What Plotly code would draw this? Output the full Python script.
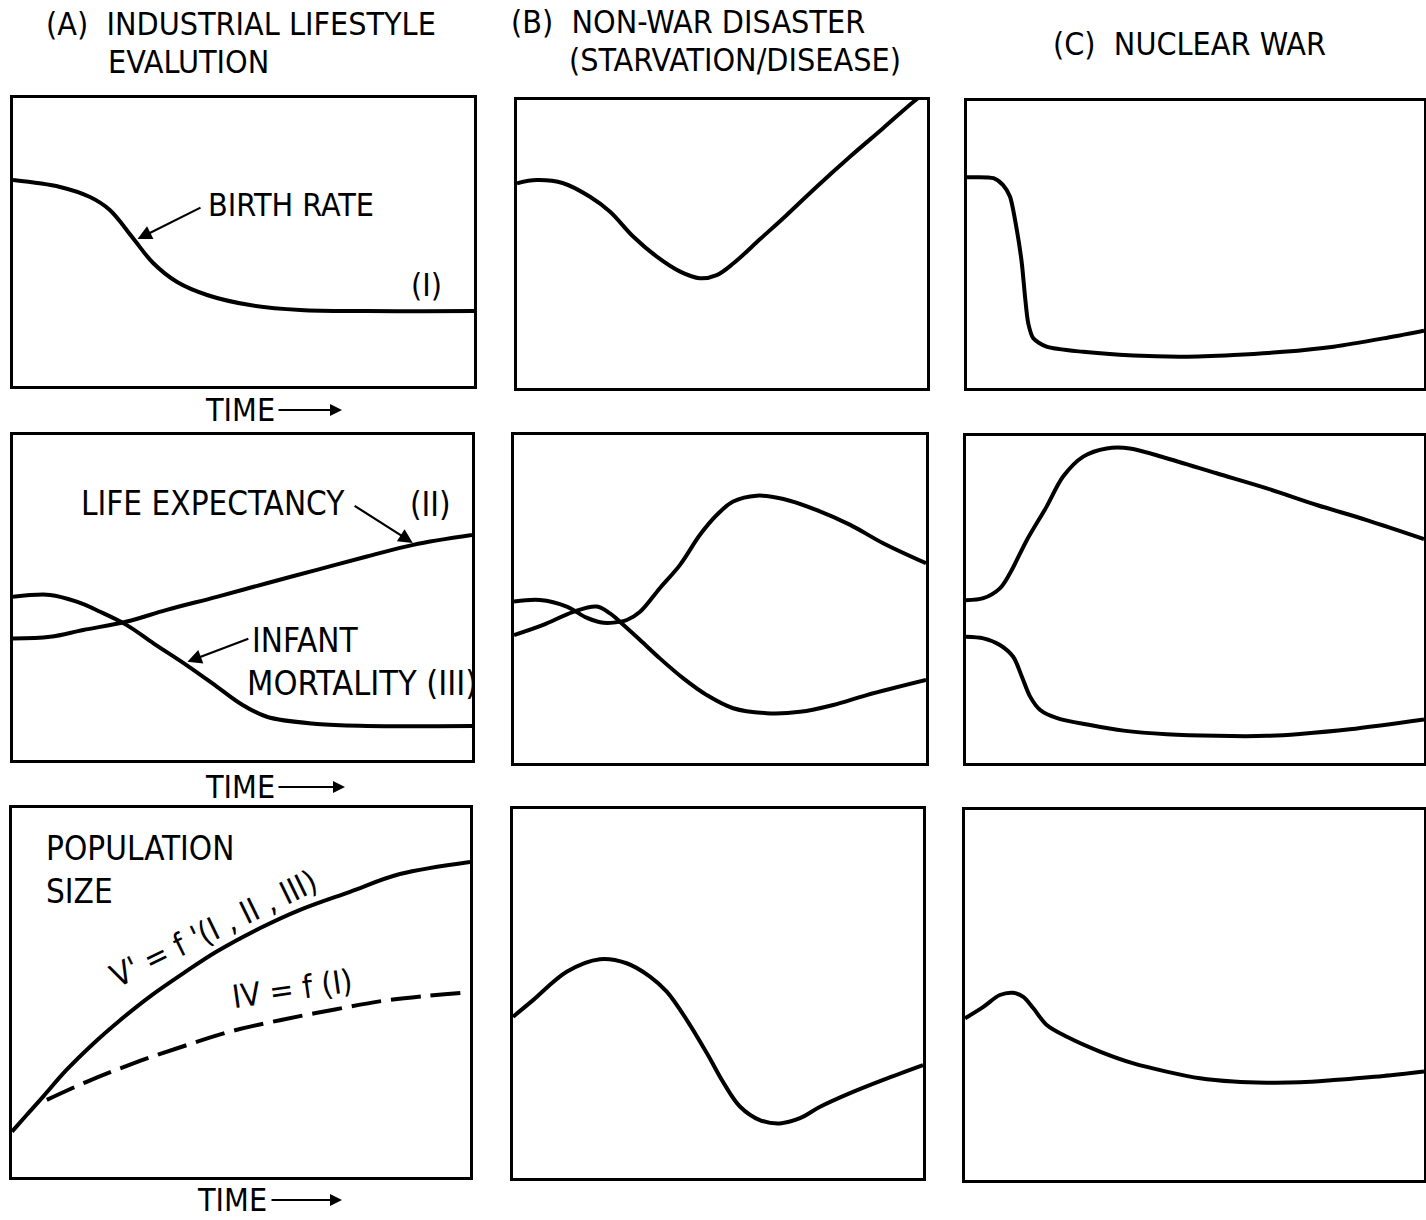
import plotly.graph_objects as go

W, H = 1426, 1220
FONT = "Liberation Sans Narrow, DejaVu Sans Condensed, Liberation Sans, sans-serif"

# ---------------- data (time 0..100, value 0..100 of each panel) ----------------
# Row 1: birth rate
t_A1 = [0, 10.2, 16.7, 21, 26, 30.4, 35.6, 42.1, 51.4, 62.3, 76.8, 100]
birth_A1 = [71.5, 69.1, 65.6, 61.1, 51.4, 42.7, 36.1, 31.6, 28.1, 26.4, 26.0, 26.0]

t_B1 = [0, 4.8, 11.3, 17.8, 22.7, 28.4, 34.1, 39.8, 44.6, 48.7, 52.8, 59.3, 65.8, 73.1, 81.2, 89.3, 96.7, 100]
birth_B1 = [71.1, 72.2, 71.1, 66.4, 61.2, 52.5, 45.6, 40.4, 38.1, 39.2, 43.3, 51.7, 60.1, 69.9, 80.3, 90.2, 99.4, 103]

t_C1 = [0, 5.8, 7.9, 9.4, 10.9, 12.0, 12.7, 13.4, 14.5, 17.4, 25.4, 36.4, 47.3, 58.3, 69.2, 80.2, 91.1, 100]
birth_C1 = [73.4, 73.1, 70.7, 66.7, 55.1, 43.4, 31.8, 22.5, 17.3, 14.4, 12.6, 11.3, 10.9, 11.5, 12.6, 14.4, 17.3, 20.0]

# Row 2: life expectancy (II) and infant mortality (III)
t_A2_le = [0, 8.1, 15.3, 24.8, 33.5, 44.4, 55.3, 66.2, 77.1, 87.2, 100]
life_A2 = [37.4, 37.9, 40.0, 42.6, 46.2, 50.2, 54.4, 58.5, 62.6, 66.2, 69.2]
t_A2_im = [0, 8.1, 13.9, 19.0, 24.8, 30.6, 37.8, 44.4, 49.5, 55.3, 66.2, 77.1, 100]
infant_A2 = [50.2, 50.8, 48.7, 45.6, 41.5, 35.9, 29.2, 22.6, 17.4, 13.3, 11.1, 10.5, 10.5]

t_B2_le = [0, 7.1, 14.4, 20.1, 23.3, 26.1, 30.6, 35.4, 41.1, 46.8, 53.2, 61.3, 69.4, 77.5, 85.6, 100]
life_B2 = [39.0, 42.1, 46.1, 47.7, 45.6, 42.6, 37.5, 31.9, 25.8, 20.7, 16.7, 15.2, 15.6, 17.7, 20.7, 25.3]
t_B2_im = [0, 6.3, 12.8, 17.6, 20.9, 24.1, 27.4, 30.6, 35.4, 40.3, 45.1, 49.2, 53.2, 58.9, 65.4, 73.5, 81.6, 89.6, 100]
infant_B2 = [49.2, 49.7, 47.7, 44.3, 42.9, 42.8, 43.6, 46.1, 53.3, 60.4, 69.5, 75.6, 79.7, 81.5, 80.5, 77.1, 72.6, 67.0, 60.9]

t_C2_im = [0, 3.8, 7.4, 9.6, 13.3, 17.6, 21.2, 25.6, 30.7, 35.8, 43.8, 54.7, 65.7, 76.6, 87.5, 100]
infant_C2 = [49.8, 50.4, 53.4, 58.0, 68.2, 78.4, 87.6, 93.7, 96.2, 96.2, 93.2, 88.6, 84.0, 78.9, 74.3, 68.5]
t_C2_le = [0, 3.8, 7.4, 10.3, 12.2, 14.0, 16.2, 19.9, 27.1, 34.4, 43.8, 54.7, 65.7, 72.9, 83.8, 100]
life_C2 = [38.6, 38.1, 36.1, 32.5, 26.4, 20.3, 16.2, 13.7, 11.6, 9.9, 8.8, 8.3, 8.3, 8.9, 10.3, 13.3]

# Row 3: population size
t_A3_v = [0, 3.2, 6.8, 11.9, 17.8, 23.6, 30.1, 37.4, 44.7, 54.1, 62.9, 73.8, 84.7, 100]
pop_A3_v = [12.3, 16.8, 21.8, 29.0, 36.2, 42.5, 48.9, 55.2, 61.1, 67.4, 72.4, 77.3, 82.1, 85.4]
t_A3_iv = [7.6, 16.3, 26.5, 37.1, 47.6, 58.5, 70.5, 82.5, 100]
pop_A3_iv = [20.9, 25.8, 30.8, 35.3, 39.4, 42.5, 45.4, 48.0, 50.1]

t_B3 = [0, 4.9, 13.1, 21.2, 27.7, 33.4, 37.5, 42.4, 47.3, 51.4, 55.4, 60.2, 65.1, 70.0, 74.9, 82.2, 90.3, 100]
pop_B3 = [43.7, 48.2, 55.9, 59.3, 58.2, 54.6, 50.5, 42.8, 33.8, 25.7, 19.3, 15.7, 14.8, 16.2, 19.3, 23.0, 26.6, 30.6]

t_C3 = [0, 4.0, 7.6, 10.5, 12.7, 14.9, 17.8, 22.2, 29.4, 36.7, 43.9, 51.2, 58.5, 65.7, 73.0, 80.3, 91.2, 100]
pop_C3 = [43.7, 46.8, 50.0, 50.6, 49.5, 46.4, 41.9, 38.7, 34.7, 31.5, 29.3, 27.5, 26.6, 26.3, 26.4, 27.0, 28.1, 29.3]

# ---------------- layout of panels (pixels: left, right, top, bottom) ----------------
boxes = [
    (13, 474, 98, 386), (517, 927, 100, 388), (967, 1424, 101, 388),
    (13, 472, 435, 760), (514, 926, 435, 763), (966, 1424, 436, 763),
    (12, 470, 808, 1177), (513, 923, 809, 1178), (965, 1424, 810, 1180),
]

fig = go.Figure()
layout = dict(width=W, height=H, margin=dict(l=0, r=0, t=0, b=0),
              paper_bgcolor="white", plot_bgcolor="white", showlegend=False,
              font=dict(family=FONT, color="black", size=32))

for i, (l, r, t, b) in enumerate(boxes):
    n = "" if i == 0 else str(i + 1)
    ax = dict(domain=[l / W, r / W], range=[0, 100], showticklabels=False, ticks="",
              showgrid=False, zeroline=False, showline=True, mirror=True,
              linecolor="black", linewidth=3, fixedrange=True)
    ay = dict(domain=[1 - b / H, 1 - t / H], range=[0, 100], showticklabels=False, ticks="",
              showgrid=False, zeroline=False, showline=True, mirror=True,
              linecolor="black", linewidth=3, fixedrange=True)
    ax["anchor"] = "y" + n
    ay["anchor"] = "x" + n
    layout["xaxis" + n] = ax
    layout["yaxis" + n] = ay

series = [
    (t_A1, birth_A1, 1, "solid", 1.0), (t_B1, birth_B1, 2, "solid", 1.0), (t_C1, birth_C1, 3, "solid", 0.7),
    (t_A2_le, life_A2, 4, "solid", 1.0), (t_A2_im, infant_A2, 4, "solid", 1.0),
    (t_B2_le, life_B2, 5, "solid", 1.0), (t_B2_im, infant_B2, 5, "solid", 1.0),
    (t_C2_le, life_C2, 6, "solid", 0.9), (t_C2_im, infant_C2, 6, "solid", 0.9),
    (t_A3_v, pop_A3_v, 7, "solid", 1.0), (t_A3_iv, pop_A3_iv, 7, "30px,10px", 1.0),
    (t_B3, pop_B3, 8, "solid", 1.0), (t_C3, pop_C3, 9, "solid", 0.9),
]
for xs, ys, k, dash, sm in series:
    n = "" if k == 1 else str(k)
    fig.add_trace(go.Scatter(x=xs, y=ys, mode="lines", xaxis="x" + n, yaxis="y" + n,
                             line=dict(color="black", width=4, dash=dash,
                                       shape="spline", smoothing=sm),
                             hoverinfo="skip"))

ann = []

def ptext(txt, px, py, size=32, anchor="left", angle=0, vanchor="middle"):
    ann.append(dict(text=txt, x=px / W, y=1 - py / H, xref="paper", yref="paper",
                    xanchor=anchor, yanchor=vanchor, showarrow=False, textangle=angle,
                    font=dict(size=size, family=FONT, color="black")))

# column titles
ptext("(A)&nbsp;&nbsp;INDUSTRIAL LIFESTYLE", 44, 24)
ptext("EVALUTION", 106, 62)
ptext("(B)&nbsp;&nbsp;NON-WAR DISASTER", 509, 22)
ptext("(STARVATION/DISEASE)", 567, 60)
ptext("(C)&nbsp;&nbsp;NUCLEAR WAR", 1051, 44)

# panel labels
ptext("BIRTH RATE", 206, 205)
ptext("(I)", 427, 285, anchor="center")
ptext("LIFE EXPECTANCY", 79, 504, size=33)
ptext("(II)", 431, 505, anchor="center", size=33)
ptext("INFANT", 250, 640, size=33)
ptext("MORTALITY (III)", 245, 683, size=34)
ptext("POPULATION", 44, 870, size=33, vanchor="bottom")
ptext("SIZE", 44, 870, size=33, vanchor="top")
ptext("V' = f '(I , II , III)", 213, 929, anchor="center", angle=-26, size=32)
ptext("IV = f (I)", 292, 989, anchor="center", angle=-8, size=32)

# TIME labels with arrows
for (tx, ty, a0, a1) in [(203, 410, 277, 342), (203, 787, 277, 345), (195, 1200, 270, 342)]:
    ptext("TIME", tx, ty)
    ann.append(dict(x=a1 / W, y=1 - ty / H, ax=a0 - a1, ay=0, xref="paper", yref="paper",
                    axref="pixel", ayref="pixel", text="", showarrow=True,
                    arrowhead=2, arrowsize=1.2, arrowwidth=2, arrowcolor="black"))

# pointer arrows (in panel data coordinates)
def parrow(k, x_head, y_head, x_tail, y_tail):
    n = "" if k == 1 else str(k)
    ann.append(dict(x=x_head, y=y_head, ax=x_tail, ay=y_tail, xref="x" + n, yref="y" + n,
                    axref="x" + n, ayref="y" + n, text="", showarrow=True,
                    arrowhead=2, arrowsize=1.3, arrowwidth=2.2, arrowcolor="black"))

parrow(1, 27.0, 51.0, 41.0, 62.2)
parrow(4, 87.1, 66.8, 74.1, 78.5)
parrow(4, 38.0, 30.2, 51.6, 37.5)

layout["annotations"] = ann
fig.update_layout(**layout)
fig.write_html("out.html", config={"displayModeBar": False},
               post_script="document.body.style.margin='0px';document.body.style.overflow='hidden';")
